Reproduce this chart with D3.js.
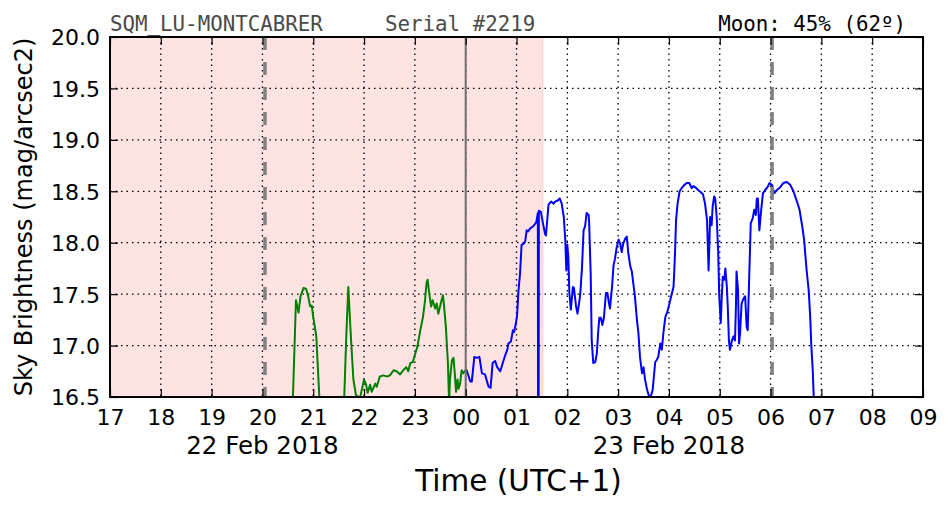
<!DOCTYPE html>
<html>
<head>
<meta charset="utf-8">
<script src="https://cdn.jsdelivr.net/npm/d3@7"></script>
<style>
  html, body { margin: 0; padding: 0; background: #fff; }
  svg { display: block; }
</style>
</head>
<body>
<svg id="chart" width="952" height="512"></svg>
<script>
// ---- Data (time = hours since 22 Feb 2018 17:00, UTC+1) ----
const hourTickLabels = ["17","18","19","20","21","22","23","00","01","02","03","04","05","06","07","08","09"];
const yTickValues = [16.5, 17.0, 17.5, 18.0, 18.5, 19.0, 19.5, 20.0];
const dateLabels = ["22 Feb 2018", "23 Feb 2018"];
const dateLabelHours = [3, 11];

const greenT = [3.58,3.60,3.66,3.71,3.75,3.81,3.86,3.90,3.94,3.97,4.00,4.06,4.08,4.12,4.15,
  4.60,4.61,4.65,4.69,4.74,4.79,4.84,4.92,5.00,5.04,5.07,5.12,5.15,5.22,5.25,5.31,5.38,5.45,5.51,5.58,5.64,5.71,5.77,5.83,5.87,5.91,5.96,6.00,6.05,6.10,6.16,6.20,6.23,6.25,6.29,6.32,6.35,6.40,6.43,6.46,6.51,6.55,6.57,6.61,6.65,6.67,6.675,6.69,6.73,6.76,6.79,6.81,6.84,6.86,6.89,6.92,6.95,6.99];
const greenMag = [16.3,16.5,17.44,17.32,17.48,17.56,17.55,17.48,17.38,17.39,17.28,17.09,16.89,16.5,16.3,
  16.3,16.5,17.09,17.57,17.09,16.67,16.52,16.49,16.67,16.62,16.54,16.62,16.55,16.63,16.60,16.70,16.71,16.70,16.71,16.76,16.75,16.72,16.76,16.79,16.75,16.83,16.84,16.91,16.99,17.13,17.28,17.44,17.61,17.64,17.48,17.38,17.44,17.36,17.41,17.31,17.41,17.49,17.41,17.18,16.83,16.50,16.45,16.67,16.86,16.88,16.70,16.55,16.67,16.58,16.63,16.76,16.73,16.76];

const blueT = [6.99,7.02,7.09,7.12,7.17,7.22,7.27,7.32,7.38,7.45,7.49,7.53,7.58,7.62,7.68,7.73,7.78,7.82,7.84,7.89,7.93,7.95,7.97,8.01,8.04,8.07,8.10,8.14,8.17,8.20,8.23,8.27,8.33,8.39,8.42,8.43,8.44,8.48,8.52,8.56,8.58,8.61,8.63,8.68,8.73,8.76,8.81,8.85,8.89,8.93,8.96,8.98,9.00,9.02,9.04,9.07,9.11,9.13,9.17,9.20,9.24,9.26,9.29,9.32,9.35,9.38,9.42,9.43,9.46,9.48,9.51,9.55,9.58,9.61,9.63,9.66,9.69,9.72,9.76,9.79,9.82,9.84,9.88,9.91,9.94,9.97,10.01,10.04,10.07,10.10,10.14,10.17,10.20,10.24,10.27,10.30,10.33,10.37,10.40,10.43,10.47,10.50,10.53,10.57,10.60,10.63,10.68,10.73,10.76,10.79,10.83,10.86,10.89,10.93,10.97,11.01,11.06,11.09,11.10,11.12,11.14,11.17,11.21,11.25,11.30,11.35,11.40,11.45,11.48,11.54,11.58,11.63,11.67,11.71,11.75,11.78,11.80,11.81,11.84,11.86,11.89,11.91,11.94,11.97,11.99,12.02,12.04,12.06,12.09,12.11,12.14,12.16,12.18,12.20,12.24,12.27,12.30,12.32,12.33,12.36,12.38,12.40,12.43,12.47,12.50,12.53,12.55,12.58,12.61,12.65,12.68,12.71,12.73,12.75,12.78,12.81,12.85,12.89,12.94,12.98,13.03,13.07,13.12,13.19,13.25,13.32,13.39,13.45,13.52,13.57,13.62,13.66,13.71,13.75,13.78,13.80,13.83,13.85,13.87];
const blueMag = [16.76,16.76,16.65,16.65,16.89,16.88,16.89,16.73,16.72,16.60,16.59,16.83,16.85,16.79,16.75,16.83,16.91,16.96,17.02,17.04,17.15,17.13,17.17,17.28,17.54,17.70,17.98,17.99,18.01,18.12,18.11,18.14,18.16,18.20,18.29,14.0,18.31,18.30,18.19,18.09,18.07,18.25,18.37,18.40,18.38,18.40,18.41,18.43,18.38,18.25,18.03,17.73,17.98,17.86,17.51,17.35,17.57,17.56,17.39,17.31,17.44,17.54,17.77,18.12,18.16,18.29,18.27,18.19,17.70,17.05,16.83,16.84,16.92,17.15,17.27,17.27,17.20,17.27,17.51,17.51,17.41,17.36,17.57,17.78,17.85,17.95,18.03,17.99,17.91,17.99,18.04,18.06,17.90,17.77,17.72,17.60,17.48,17.25,17.12,16.89,16.73,16.79,16.67,16.57,16.52,16.48,16.57,16.84,16.86,16.89,17.02,16.96,17.12,17.28,17.33,17.41,17.51,17.57,17.67,17.90,18.22,18.38,18.50,18.53,18.56,18.58,18.58,18.53,18.55,18.53,18.51,18.49,18.47,18.38,18.22,17.73,18.06,18.25,18.17,18.35,18.45,18.43,18.25,17.90,17.48,17.22,17.48,17.67,17.64,17.75,17.57,17.35,17.05,16.96,17.05,17.09,17.05,17.41,17.72,17.54,17.02,17.12,17.41,17.46,17.48,17.18,17.15,17.67,18.19,18.24,18.32,18.27,18.43,18.43,18.12,18.29,18.48,18.51,18.54,18.58,18.56,18.48,18.51,18.54,18.58,18.59,18.56,18.50,18.40,18.32,18.17,18.03,17.73,17.54,17.28,17.02,16.76,16.50,16.3];

const daylightSpan = [0, 8.52];     // shaded (pink) interval
const twilightHours = [3.05, 13.03]; // dashed grey lines
const midnightHour = 7;             // solid grey line

// ---- Layout ----
const svg = d3.select("#chart");
const L = 110, R = 923, T = 37, B = 397;
const x = d3.scaleLinear().domain([0, 16]).range([L, R]);
const y = d3.scaleLinear().domain([16.5, 20.0]).range([B, T]);
const hourTicks = d3.range(0, 17);

svg.append("defs").append("clipPath").attr("id", "plotclip")
  .append("rect").attr("x", L).attr("y", T).attr("width", R - L).attr("height", B - T);

const plot = svg.append("g").attr("clip-path", "url(#plotclip)");

// shaded span
plot.append("rect")
  .attr("x", x(daylightSpan[0])).attr("y", T)
  .attr("width", x(daylightSpan[1]) - x(daylightSpan[0])).attr("height", B - T)
  .attr("fill", "rgb(255,0,0)").attr("fill-opacity", 0.11)
  .attr("stroke", "rgb(255,0,0)").attr("stroke-opacity", 0.1).attr("stroke-width", 1.5);

// grid
plot.append("g").selectAll("line").data(hourTicks.slice(1, -1)).join("line")
  .attr("x1", d => x(d)).attr("x2", d => x(d)).attr("y1", T).attr("y2", B)
  .attr("stroke", "#000").attr("stroke-width", 1.3).attr("stroke-dasharray", "1.5,4");
plot.append("g").selectAll("line").data(yTickValues.slice(1, -1)).join("line")
  .attr("x1", L).attr("x2", R).attr("y1", d => y(d)).attr("y2", d => y(d))
  .attr("stroke", "#000").attr("stroke-width", 1.3).attr("stroke-dasharray", "1.5,4");

// data lines
const line = d3.line().x(d => x(d[0])).y(d => y(d[1]));
plot.append("path").datum(d3.zip(greenT, greenMag))
  .attr("d", line).attr("fill", "none").attr("stroke", "#008000")
  .attr("stroke-width", 2).attr("stroke-linejoin", "round");
plot.append("path").datum(d3.zip(blueT, blueMag))
  .attr("d", line).attr("fill", "none").attr("stroke", "#0000ff")
  .attr("stroke-width", 2).attr("stroke-linejoin", "round");

// vertical markers
plot.append("line")
  .attr("x1", x(midnightHour)).attr("x2", x(midnightHour)).attr("y1", T).attr("y2", B)
  .attr("stroke", "#6e6e6e").attr("stroke-width", 2);
plot.append("g").selectAll("line").data(twilightHours).join("line")
  .attr("x1", d => x(d)).attr("x2", d => x(d)).attr("y1", T).attr("y2", B)
  .attr("stroke", "#808080").attr("stroke-width", 3.5).attr("stroke-dasharray", "13,12");

// axes (ticks inward)
const fontSans = "'DejaVu Sans', sans-serif";
const xAxisB = svg.append("g").attr("transform", `translate(0,${B})`)
  .call(d3.axisBottom(x).tickValues(hourTicks).tickSize(-8).tickPadding(12)
    .tickFormat((d, i) => hourTickLabels[i]));
const xAxisT = svg.append("g").attr("transform", `translate(0,${T})`)
  .call(d3.axisTop(x).tickValues(hourTicks).tickSize(-8).tickFormat(""));
const yAxisL = svg.append("g").attr("transform", `translate(${L},0)`)
  .call(d3.axisLeft(y).tickValues(yTickValues).tickSize(-8).tickPadding(10)
    .tickFormat(d3.format(".1f")));
const yAxisR = svg.append("g").attr("transform", `translate(${R},0)`)
  .call(d3.axisRight(y).tickValues(yTickValues).tickSize(-8).tickFormat(""));

[xAxisB, xAxisT, yAxisL, yAxisR].forEach(g => {
  g.select(".domain").remove();
  g.selectAll(".tick line").attr("stroke", "#000").attr("stroke-width", 1.2);
  g.selectAll("text").attr("font-family", fontSans).attr("font-size", 22).attr("fill", "#000");
});
xAxisB.selectAll("text").attr("dy", "0.71em");
yAxisL.selectAll("text").attr("dy", "0.36em");

// frame
svg.append("rect").attr("x", L).attr("y", T).attr("width", R - L).attr("height", B - T)
  .attr("fill", "none").attr("stroke", "#000").attr("stroke-width", 2);

// date labels
svg.append("g").selectAll("text").data(dateLabels).join("text")
  .attr("x", (d, i) => x(dateLabelHours[i])).attr("y", 454)
  .attr("text-anchor", "middle").attr("font-family", fontSans).attr("font-size", 24.5)
  .text(d => d);

// axis titles
svg.append("text").attr("x", (L + R) / 2 + 2).attr("y", 491)
  .attr("text-anchor", "middle").attr("font-family", fontSans).attr("font-size", 29.5)
  .text("Time (UTC+1)");
svg.append("text")
  .attr("transform", `translate(32,${(T + B) / 2}) rotate(-90)`)
  .attr("text-anchor", "middle").attr("font-family", fontSans).attr("font-size", 24)
  .text("Sky Brightness (mag/arcsec2)");

// header texts
const fontMono = "'DejaVu Sans Mono', monospace";
svg.append("text").attr("x", L).attr("y", 31)
  .attr("font-family", fontMono).attr("font-size", 20.8).attr("fill", "#4a4a4a")
  .text("SQM_LU-MONTCABRER");
svg.append("text").attr("x", 385).attr("y", 31)
  .attr("font-family", fontMono).attr("font-size", 20.8).attr("fill", "#4a4a4a")
  .text("Serial #2219");
svg.append("text").attr("x", 906).attr("y", 31).attr("text-anchor", "end")
  .attr("font-family", fontMono).attr("font-size", 20.8).attr("fill", "#000")
  .text("Moon: 45% (62º)");
</script>
</body>
</html>
